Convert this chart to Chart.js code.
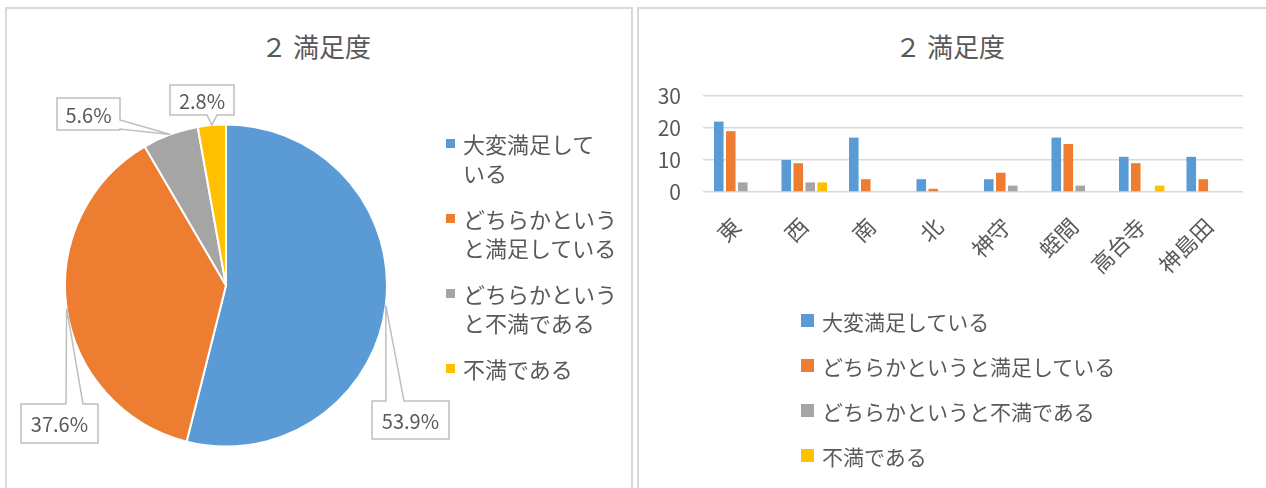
<!DOCTYPE html>
<html lang="ja">
<head>
<meta charset="utf-8">
<script src="https://cdn.jsdelivr.net/npm/chart.js@4.4.1/dist/chart.umd.min.js"></script>
<style>
  html, body { margin: 0; padding: 0; background: #fff; }
  body {
    width: 1266px; height: 488px; position: relative; overflow: hidden;
    font-family: "Noto Sans CJK JP", sans-serif; color: #595959;
  }
  .panel { position: absolute; top: 7px; height: 500px; border: 2px solid #d9d9d9; box-sizing: border-box; }
  #panel-pie { left: 5px; width: 628px; }
  #panel-bar { left: 637px; width: 640px; }
  .title {
    position: absolute; top: 29px; font-size: 26px; line-height: 34px;
    white-space: pre; transform: translateX(-50%);
  }
  canvas { position: absolute; }
  .legend { position: absolute; font-size: 21px; }
  #pie-legend { left: 446px; top: 129px; font-size: 22px; }
  #pie-legend .item { position: relative; padding-left: 17px; line-height: 29px; margin-bottom: 17px; white-space: nowrap; }
  #pie-legend .sw { position: absolute; left: 0; top: 10px; width: 9px; height: 9px; }
  #bar-legend { left: 801px; top: 298px; }
  #bar-legend .item { display: flex; align-items: center; height: 45px; white-space: nowrap; }
  #bar-legend .sw { width: 13px; height: 13px; margin-right: 8px; }
</style>
</head>
<body>
<div class="panel" id="panel-pie"></div>
<div class="panel" id="panel-bar"></div>
<div class="title" style="left:316px">２ 満足度</div>
<div class="title" style="left:950px">２ 満足度</div>
<canvas id="chart-pie" width="636" height="488" style="left:0;top:0;width:636px;height:488px"></canvas>
<canvas id="chart-bar" width="626" height="488" style="left:640px;top:0;width:626px;height:488px"></canvas>
<div class="legend" id="pie-legend"></div>
<div class="legend" id="bar-legend"></div>

<script>
// 回答区分
const answerLabels = ["大変満足している", "どちらかというと満足している", "どちらかというと不満である", "不満である"];
const answerColors = ["#5B9BD5", "#ED7D31", "#A5A5A5", "#FFC000"];
// 円グラフ凡例の折り返し位置（文字数）
const pieLegendBreaks = [6, 7, 7, 99];

// 円グラフ：全体の件数
const pieCounts = [96, 67, 10, 5];

// 地区別
const areas = ["東", "西", "南", "北", "神守", "蛭間", "高台寺", "神島田"];
const verysatisfied = [22, 10, 17, 4, 4, 17, 11, 11];
const fairlySatisfied = [19, 9, 4, 1, 6, 15, 9, 4];
const fairlyDissatisfied = [3, 3, 0, 0, 2, 2, 0, 0];
const dissatisfied = [0, 3, 0, 0, 0, 0, 2, 0];
const yTicks = [0, 10, 20, 30];

const textColor = "#595959";
const fontFamily = '"Noto Sans CJK JP", sans-serif';

// 吹き出しラベルの位置
const calloutBoxes = [
  { x: 372, y: 401, w: 77, h: 38, side: "top", a: 386, b: 404 },
  { x: 21, y: 404, w: 77, h: 39, side: "top", a: 66, b: 83 },
  { x: 57, y: 98, w: 63, h: 32, side: "right", a: 120, b: 129 },
  { x: 170, y: 85, w: 64, h: 30, side: "bottom", a: 207, b: 217 },
];

document.addEventListener("DOMContentLoaded", () => {
  renderPieLegend();
  renderBarLegend();
  renderPie();
  renderBar();
});

/** 左：凡例 */
function renderPieLegend() {
  const el = document.getElementById("pie-legend");
  answerLabels.forEach((label, i) => {
    const item = document.createElement("div");
    item.className = "item";
    const sw = document.createElement("span");
    sw.className = "sw";
    sw.style.background = answerColors[i];
    item.appendChild(sw);
    const n = pieLegendBreaks[i];
    const lines = [label.slice(0, n), label.slice(n)].filter((s) => s);
    lines.forEach((s, k) => {
      if (k > 0) item.appendChild(document.createElement("br"));
      item.appendChild(document.createTextNode(s));
    });
    el.appendChild(item);
  });
}

/** 右：凡例 */
function renderBarLegend() {
  const el = document.getElementById("bar-legend");
  answerLabels.forEach((label, i) => {
    const item = document.createElement("div");
    item.className = "item";
    const sw = document.createElement("span");
    sw.className = "sw";
    sw.style.background = answerColors[i];
    item.appendChild(sw);
    item.appendChild(document.createTextNode(label));
    el.appendChild(item);
  });
}

/** 吹き出し（パーセント表示） */
const calloutPlugin = {
  id: "callouts",
  afterDatasetsDraw(chart) {
    const ctx = chart.ctx;
    const meta = chart.getDatasetMeta(0);
    const total = pieCounts.reduce((s, v) => s + v, 0);
    meta.data.forEach((arc, i) => {
      const box = calloutBoxes[i];
      if (!box) return;
      const p = arc.getProps(["x", "y", "startAngle", "endAngle", "outerRadius"], true);
      const mid = (p.startAngle + p.endAngle) / 2;
      const tx = p.x + Math.cos(mid) * p.outerRadius;
      const ty = p.y + Math.sin(mid) * p.outerRadius;
      const x0 = box.x, y0 = box.y, x1 = box.x + box.w, y1 = box.y + box.h;

      ctx.save();
      ctx.beginPath();
      if (box.side === "top") {
        ctx.moveTo(x0, y0); ctx.lineTo(box.a, y0); ctx.lineTo(tx, ty); ctx.lineTo(box.b, y0);
        ctx.lineTo(x1, y0); ctx.lineTo(x1, y1); ctx.lineTo(x0, y1);
      } else if (box.side === "bottom") {
        ctx.moveTo(x0, y0); ctx.lineTo(x1, y0); ctx.lineTo(x1, y1); ctx.lineTo(box.b, y1);
        ctx.lineTo(tx, ty); ctx.lineTo(box.a, y1); ctx.lineTo(x0, y1);
      } else {
        ctx.moveTo(x0, y0); ctx.lineTo(x1, y0); ctx.lineTo(x1, box.a); ctx.lineTo(tx, ty);
        ctx.lineTo(x1, box.b); ctx.lineTo(x1, y1); ctx.lineTo(x0, y1);
      }
      ctx.closePath();
      ctx.fillStyle = "#ffffff";
      ctx.fill();
      ctx.strokeStyle = "#bfbfbf";
      ctx.lineWidth = 1.5;
      ctx.stroke();

      const pct = ((pieCounts[i] / total) * 100).toFixed(1) + "%";
      ctx.fillStyle = textColor;
      ctx.font = `20px ${fontFamily}`;
      ctx.textAlign = "center";
      ctx.textBaseline = "middle";
      ctx.fillText(pct, (x0 + x1) / 2, (y0 + y1) / 2 + 1);
      ctx.restore();
    });
  },
};

/** 円グラフ */
function renderPie() {
  const ctx = document.getElementById("chart-pie").getContext("2d");
  new Chart(ctx, {
    type: "pie",
    data: {
      labels: answerLabels,
      datasets: [
        {
          data: pieCounts,
          backgroundColor: answerColors,
          borderColor: "#ffffff",
          borderWidth: 2,
        },
      ],
    },
    options: {
      responsive: false,
      animation: false,
      layout: { padding: { left: 64, top: 123, right: 248, bottom: 40 } },
      plugins: {
        legend: { display: false },
        tooltip: { enabled: false },
      },
    },
    plugins: [calloutPlugin],
  });
}

/** 地区別 棒グラフ */
function renderBar() {
  const ctx = document.getElementById("chart-bar").getContext("2d");
  const series = [verysatisfied, fairlySatisfied, fairlyDissatisfied, dissatisfied];
  new Chart(ctx, {
    type: "bar",
    data: {
      labels: areas,
      datasets: series.map((d, i) => ({
        label: answerLabels[i],
        data: d,
        backgroundColor: answerColors[i],
        borderWidth: 0,
        barPercentage: 0.8,
        categoryPercentage: 0.71,
      })),
    },
    options: {
      responsive: false,
      animation: false,
      layout: { padding: { left: 0, top: 96, right: 23, bottom: 0 } },
      scales: {
        x: {
          grid: { display: false },
          border: { display: false },
          ticks: {
            color: textColor,
            font: { family: fontFamily, size: 22 },
            minRotation: 45,
            maxRotation: 45,
            autoSkip: false,
            padding: 13,
          },
          afterFit: (scale) => { scale.height = 296; },
        },
        y: {
          min: yTicks[0],
          max: yTicks[yTicks.length - 1],
          afterBuildTicks: (scale) => { scale.ticks = yTicks.map((v) => ({ value: v })); },
          grid: { color: "#d9d9d9", lineWidth: 1.5, drawTicks: false },
          border: { display: false },
          ticks: {
            color: textColor,
            font: { family: fontFamily, size: 21 },
            padding: 22,
          },
          afterFit: (scale) => { scale.width = 63; },
        },
      },
      plugins: {
        legend: { display: false },
        tooltip: { enabled: false },
      },
    },
  });
}
</script>
</body>
</html>
